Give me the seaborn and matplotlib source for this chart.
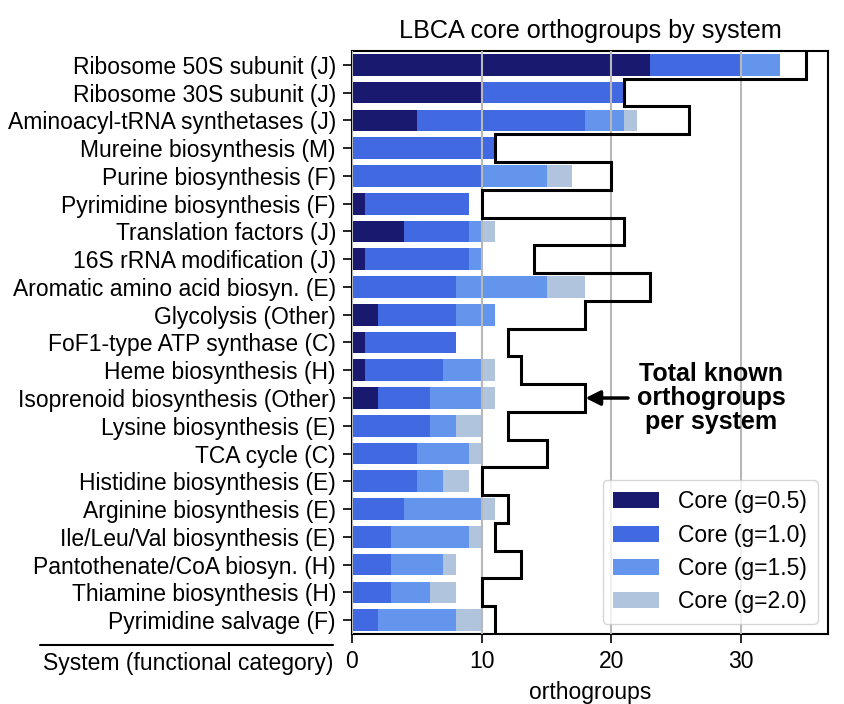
import numpy as np
import pandas as pd
import matplotlib
matplotlib.use("Agg")
import matplotlib.pyplot as plt
import seaborn as sns

# systems, top to bottom
systems = [
    "Ribosome 50S subunit (J)",
    "Ribosome 30S subunit (J)",
    "Aminoacyl-tRNA synthetases (J)",
    "Mureine biosynthesis (M)",
    "Purine biosynthesis (F)",
    "Pyrimidine biosynthesis (F)",
    "Translation factors (J)",
    "16S rRNA modification (J)",
    "Aromatic amino acid biosyn. (E)",
    "Glycolysis (Other)",
    "FoF1-type ATP synthase (C)",
    "Heme biosynthesis (H)",
    "Isoprenoid biosynthesis (Other)",
    "Lysine biosynthesis (E)",
    "TCA cycle (C)",
    "Histidine biosynthesis (E)",
    "Arginine biosynthesis (E)",
    "Ile/Leu/Val biosynthesis (E)",
    "Pantothenate/CoA biosyn. (H)",
    "Thiamine biosynthesis (H)",
    "Pyrimidine salvage (F)",
]

# core orthogroup counts at each threshold (cumulative)
core_05 = [23, 10, 5, 0, 0, 1, 4, 1, 0, 2, 1, 1, 2, 0, 0, 0, 0, 0, 0, 0, 0]
core_10 = [30, 21, 18, 11, 10, 9, 9, 9, 8, 8, 8, 7, 6, 6, 5, 5, 4, 3, 3, 3, 2]
core_15 = [33, 21, 21, 11, 15, 9, 10, 10, 15, 11, 8, 10, 10, 8, 9, 7, 10, 9, 7, 6, 8]
core_20 = [33, 21, 22, 11, 17, 9, 11, 10, 18, 11, 8, 11, 11, 10, 10, 9, 11, 10, 8, 8, 10]
# total known orthogroups per system
total_known = [35, 21, 26, 11, 20, 10, 21, 14, 23, 18, 12, 13, 18, 12, 15, 10, 12, 11, 13, 10, 11]

labels = ["Core (g=0.5)", "Core (g=1.0)", "Core (g=1.5)", "Core (g=2.0)"]
colors = ["#191970", "#4169E1", "#6495ED", "#B0C4DE"]

df = pd.DataFrame({
    "system": systems,
    "g05": core_05, "g10": core_10, "g15": core_15, "g20": core_20,
    "total": total_known,
})

sns.set_style("white")
plt.rcParams["font.family"] = ["Liberation Sans", "DejaVu Sans"]
plt.rcParams["font.size"] = 16.5
plt.rcParams["text.color"] = "black"
plt.rcParams["axes.labelcolor"] = "black"
plt.rcParams["xtick.color"] = "black"
plt.rcParams["ytick.color"] = "black"

fig, ax = plt.subplots(figsize=(8.44, 7.04), dpi=100)
fig.subplots_adjust(left=0.417, right=0.981, top=0.9276, bottom=0.0994)

# widest layer first so the narrower ones sit on top
for col, lab, c in zip(["g20", "g15", "g10", "g05"], labels[::-1], colors[::-1]):
    sns.barplot(data=df, x=col, y="system", color=c, saturation=1,
                width=0.78, label=lab, ax=ax, orient="h", linewidth=0)

# outline of total known orthogroups
n = len(systems)
ax.stairs(df["total"], np.arange(n + 1) - 0.5, orientation="horizontal",
          baseline=None, color="black", lw=2.2, zorder=3)

ax.set_xlim(0, 36.7)
ax.set_ylim(n - 0.5, -0.5)
ax.set_xticks([0, 10, 20, 30])
ax.xaxis.grid(True, color="#b8b8b8", lw=1.5)
ax.set_axisbelow(False)
for s in ax.spines.values():
    s.set_visible(True)
    s.set_color("black")
    s.set_linewidth(1.5)
ax.tick_params(axis="both", which="both", length=6.5, width=1.2, pad=5,
               labelsize=16.5, left=True, bottom=True)

ax.set_ylabel("")
ax.set_xlabel("orthogroups", fontsize=16.5, labelpad=6)
ax.set_title("LBCA core orthogroups by system", fontsize=18.2, pad=9)

# category label under the tick labels
ax.text(-0.04, -0.05, "System (functional category)", transform=ax.transAxes,
        ha="right", va="center", fontsize=16.5)
ax.plot([-0.655, -0.04], [-0.019, -0.019], transform=ax.transAxes,
        color="black", lw=1.5, clip_on=False)

ax.annotate("Total known\northogroups\nper system", xy=(18, 12), xytext=(27.7, 12),
            ha="center", va="center", fontsize=18, fontweight="bold",
            linespacing=0.98,
            arrowprops=dict(arrowstyle="-|>", color="black", lw=2.5,
                            mutation_scale=22, shrinkA=4, shrinkB=0))

handles, labs = ax.get_legend_handles_labels()
order = [labs.index(l) for l in labels]
ax.legend([handles[i] for i in order], labels, loc="lower right", fontsize=16.5,
          handlelength=2.0, handleheight=0.7, labelspacing=0.45, borderpad=0.45,
          handletextpad=0.85, borderaxespad=0.45, edgecolor="#cccccc")

fig.savefig("out.png", dpi=100)
